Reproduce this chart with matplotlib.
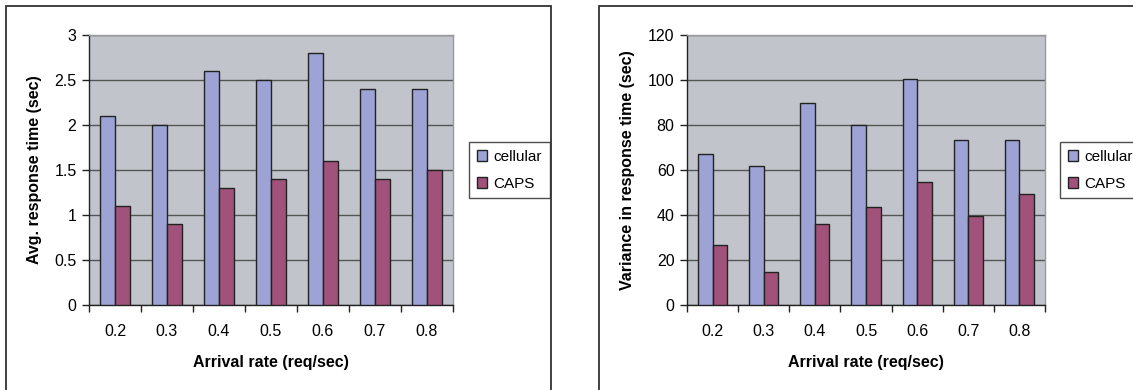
import matplotlib
matplotlib.use("Agg")
import matplotlib.pyplot as plt
from matplotlib.patches import Rectangle
import numpy as np

plt.rcParams['font.family'] = ['Liberation Sans', 'DejaVu Sans']

rates = ['0.2', '0.3', '0.4', '0.5', '0.6', '0.7', '0.8']
series = ['cellular', 'CAPS']

avg_cellular = [2.1, 2.0, 2.6, 2.5, 2.8, 2.4, 2.4]
avg_caps = [1.1, 0.9, 1.3, 1.4, 1.6, 1.4, 1.5]

var_cellular = [67.3, 61.6, 90.0, 79.8, 100.5, 73.2, 73.2]
var_caps = [26.5, 14.8, 36.2, 43.4, 54.5, 39.4, 49.3]

colors = ['#9DA3D4', '#A0527A']
bg = '#C1C4CB'
W, H = 1133, 390


def px(x, y):
    # pixel position (from top-left) -> figure fraction
    return x / W, 1 - y / H


def draw_panel(fig, rect, values, ymax, ystep, ylabel, legend_x):
    ax = fig.add_axes(rect)
    ax.set_facecolor(bg)
    x = np.arange(len(rates))
    w = 1 / 3.5
    for i, (vals, c) in enumerate(zip(values, colors)):
        ax.bar(x + (i - 0.5) * w, vals, width=w, color=c, edgecolor='#222222',
               linewidth=1.0, label=series[i], zorder=3)
    ax.set_xlim(-0.5, len(rates) - 0.5)
    ax.set_ylim(0, ymax)
    yt = np.arange(0, ymax + ystep / 2, ystep)
    ax.set_yticks(yt)
    ax.set_yticklabels(['%g' % v for v in yt], fontsize=11.5)
    ax.yaxis.grid(True, color='#555555', linewidth=1.0, zorder=1)
    # group boundaries get the tick marks, labels sit in the middle
    ax.set_xticks(np.arange(-0.5, len(rates)), minor=False)
    ax.set_xticklabels([])
    ax.set_xticks(x, minor=True)
    ax.set_xticklabels(rates, minor=True, fontsize=11.5)
    ax.tick_params(axis='x', which='major', length=5, width=1, color='#222222', direction='out')
    ax.tick_params(axis='x', which='minor', length=0, pad=14)
    ax.tick_params(axis='y', length=5, width=1, color='#222222', direction='out', pad=4)
    for s in ['top', 'right']:
        ax.spines[s].set_color('#999999')
        ax.spines[s].set_linewidth(1.0)
    for s in ['left', 'bottom']:
        ax.spines[s].set_color('#222222')
        ax.spines[s].set_linewidth(1.0)
    ax.set_xlabel('Arrival rate (req/sec)', fontsize=11.5, fontweight='bold', labelpad=11)
    ax.set_ylabel(ylabel, fontsize=11.5, fontweight='bold', labelpad=9)
    leg = ax.legend(loc='upper left', bbox_to_anchor=px(legend_x, 142),
                    bbox_transform=fig.transFigure, fontsize=11, frameon=True,
                    fancybox=False, handlelength=0.7, handleheight=0.7,
                    handletextpad=0.4, borderpad=0.5, labelspacing=0.85,
                    borderaxespad=0)
    leg.get_frame().set_edgecolor('#222222')
    leg.get_frame().set_linewidth(1.0)
    return ax


fig = plt.figure(figsize=(W / 100, H / 100), dpi=100)

# panel frames
for x0, x1 in [(6, 551), (599, 1200)]:
    fx0, fy0 = px(x0, 400)
    fx1, fy1 = px(x1, 6)
    fig.patches.append(Rectangle((fx0, fy0), fx1 - fx0, fy1 - fy0,
                                 transform=fig.transFigure, fill=False,
                                 edgecolor='#333333', linewidth=1.3))

l0, t0 = px(89, 35)
l1, b1 = px(453, 305)
draw_panel(fig, [l0, b1, l1 - l0, t0 - b1], [avg_cellular, avg_caps], 3, 0.5,
           'Avg. response time (sec)', 469)

r0, _ = px(687, 35)
r1, _ = px(1045, 305)
draw_panel(fig, [r0, b1, r1 - r0, t0 - b1], [var_cellular, var_caps], 120, 20,
           'Variance in response time (sec)', 1060)

fig.savefig('out.png', dpi=100)
